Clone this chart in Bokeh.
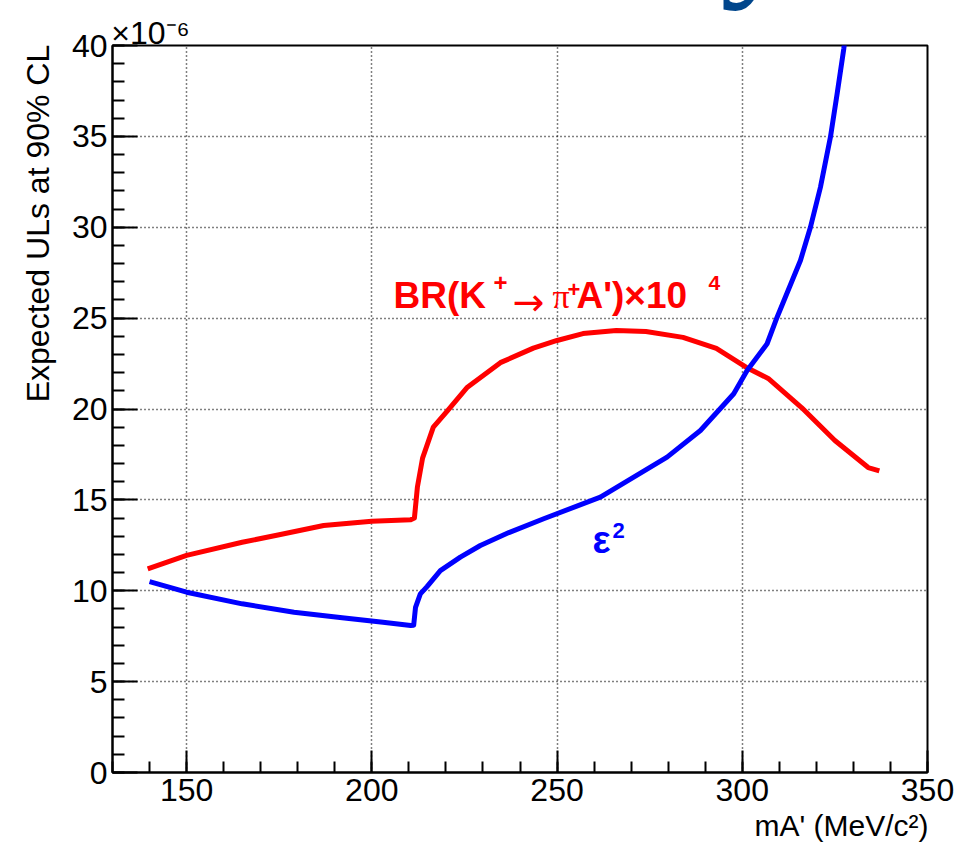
from bokeh.plotting import figure
from bokeh.layouts import column
from bokeh.models import Label, Range1d, SingleIntervalTicker, LinearAxis, FixedTicker, Div
from bokeh.embed import file_html
from bokeh.resources import INLINE

# ---- data (values in units of 1e-6) ----
mass_br = [139.5, 150, 165, 175, 187, 200, 210.5, 211.5, 212.3, 213.7, 216.6, 220.4,
           225.8, 234.7, 243.6, 250, 257, 266, 274, 284, 293, 301, 307, 316, 325, 334, 337]
br_x1e4 = [11.2, 11.95, 12.67, 13.08, 13.59, 13.83, 13.9, 14.0, 15.7, 17.3, 19.0, 19.9,
           21.2, 22.55, 23.35, 23.77, 24.15, 24.32, 24.26, 23.94, 23.33, 22.3, 21.68,
           20.08, 18.27, 16.78, 16.6]

mass_eps = [140, 150, 165, 179, 192, 203, 210.5, 211.3, 211.8, 213.1, 214.9, 218.5,
            223.9, 229.3, 237, 246.4, 261.7, 279.7, 288.7, 297.7, 301.3, 306.7, 309.4,
            315.7, 318.4, 321.1, 323.8, 325.6, 327.4, 328.0]
eps2 = [10.5, 9.92, 9.28, 8.82, 8.51, 8.27, 8.09, 8.1, 9.09, 9.83, 10.23, 11.11,
        11.85, 12.49, 13.2, 13.96, 15.15, 17.35, 18.82, 20.84, 22.12, 23.59, 25.05,
        28.17, 30.0, 32.2, 34.96, 37.34, 39.82, 40.8]

y_title = "Expected ULs at 90% CL"
x_title = "mA' (MeV/c²)"
y_scale_note = "×10⁻⁶"
slide_title = "π⁺A' decay"

x_start, x_end = 130, 350
y_start, y_end = 0, 40

W, H = 961, 853
FL, FR, FT, FB = 112, 927, 45, 772  # frame edges in canvas pixels


def dx(X):
    return x_start + (X - FL) * (x_end - x_start) / (FR - FL)


def dy(Y):
    return y_start + (FB - Y) * (y_end - y_start) / (FB - FT)


p = figure(width=W, height=H, x_range=Range1d(x_start, x_end), y_range=Range1d(y_start, y_end),
           output_backend="svg", toolbar_location=None,
           min_border_left=FL, min_border_right=W - FR, min_border_top=FT, min_border_bottom=H - FB)
p.background_fill_color = "white"
p.border_fill_color = "white"
p.outline_line_color = "black"
p.outline_line_width = 2

p.xaxis.ticker = SingleIntervalTicker(interval=50, num_minor_ticks=5)
p.yaxis.ticker = SingleIntervalTicker(interval=5, num_minor_ticks=5)
for ax, maj, mnr in ((p.xaxis, 22, 11), (p.yaxis, 25, 12)):
    ax.major_tick_in = maj
    ax.major_tick_out = 0
    ax.minor_tick_in = mnr
    ax.minor_tick_out = 0
    ax.axis_line_width = 2
    ax.major_tick_line_width = 2
    ax.minor_tick_line_width = 2
    ax.axis_line_color = "black"
    ax.major_tick_line_color = "black"
    ax.minor_tick_line_color = "black"
    ax.major_label_text_font = "Liberation Sans"
    ax.major_label_text_font_size = "32px"
    ax.major_label_text_color = "black"
p.xaxis.major_label_standoff = 6
p.yaxis.major_label_standoff = 5

for g in (p.xgrid, p.ygrid):
    g.grid_line_color = "black"
    g.grid_line_dash = "1 3"
    g.grid_line_width = 1.5

p.line(mass_br, br_x1e4, line_color="#ff0000", line_width=5, line_join="round")
p.line(mass_eps, eps2, line_color="#0000ff", line_width=5, line_join="round")


def title_axis(side, tick, text, size, standoff, orientation="horizontal"):
    """Axis title drawn as the single tick label of an extra, line-less axis
    stacked in the side panel next to the main axis."""
    tick = round(tick, 3)
    ax = LinearAxis(ticker=FixedTicker(ticks=[tick], minor_ticks=[]),
                    major_label_overrides={tick: text},
                    axis_line_color=None, major_tick_line_color=None, minor_tick_line_color=None,
                    major_tick_in=0, major_tick_out=0, minor_tick_in=0, minor_tick_out=0,
                    major_label_standoff=standoff, major_label_text_font="Liberation Sans",
                    major_label_text_font_size=f"{size}px", major_label_text_color="black",
                    major_label_orientation=orientation)
    p.add_layout(ax, side)


title_axis("left", dy(223), y_title, 32, 12, "vertical")
title_axis("below", dx(841), x_title, 30, 5)
title_axis("above", dx(150), y_scale_note, 32, -5)


def lab(X, Yb, text, size, color="black", font="Liberation Sans", style="normal", mid=None):
    # text inside the frame; X left edge, Yb alphabetic baseline (px); anchored at middle
    ym = Yb - 0.35 * size if mid is None else mid
    p.add_layout(Label(x=dx(X), y=dy(ym), text=text, text_font=font,
                       text_font_size=f"{size}px", text_color=color,
                       text_font_style=style, text_align="left", text_baseline="middle"))


# curve labels
RED = "#ff0000"
lab(393, 308, "BR(K", 37, RED, style="bold")
lab(493, 0, "+", 24, RED, style="bold", mid=282)
lab(512, 0, "→", 38, RED, font="DejaVu Sans", mid=301)
lab(552, 308, "π", 34, RED, font="Liberation Serif")
lab(567, 0, "+", 22, RED, style="bold", mid=289)
lab(576, 308, "A')×10", 37, RED, style="bold")
lab(708, 290, "4", 21, RED, style="bold")

BLUE = "#0000ff"
lab(592, 553, "ε", 38, BLUE, style="bold")
lab(612, 538, "2", 22, BLUE, style="bold")

# slide title above the chart, mostly cut off by the top of the page
title_div = Div(text=slide_title, width=715, height=170,
                styles={"position": "absolute", "left": "80px", "top": "-162px",
                        "font-family": "Liberation Serif", "font-size": "160px",
                        "line-height": "1", "color": "#00468c", "text-align": "right",
                        "white-space": "nowrap", "z-index": "10"})

layout = column(p, title_div)
open("out.html", "w").write(file_html(layout, INLINE))
